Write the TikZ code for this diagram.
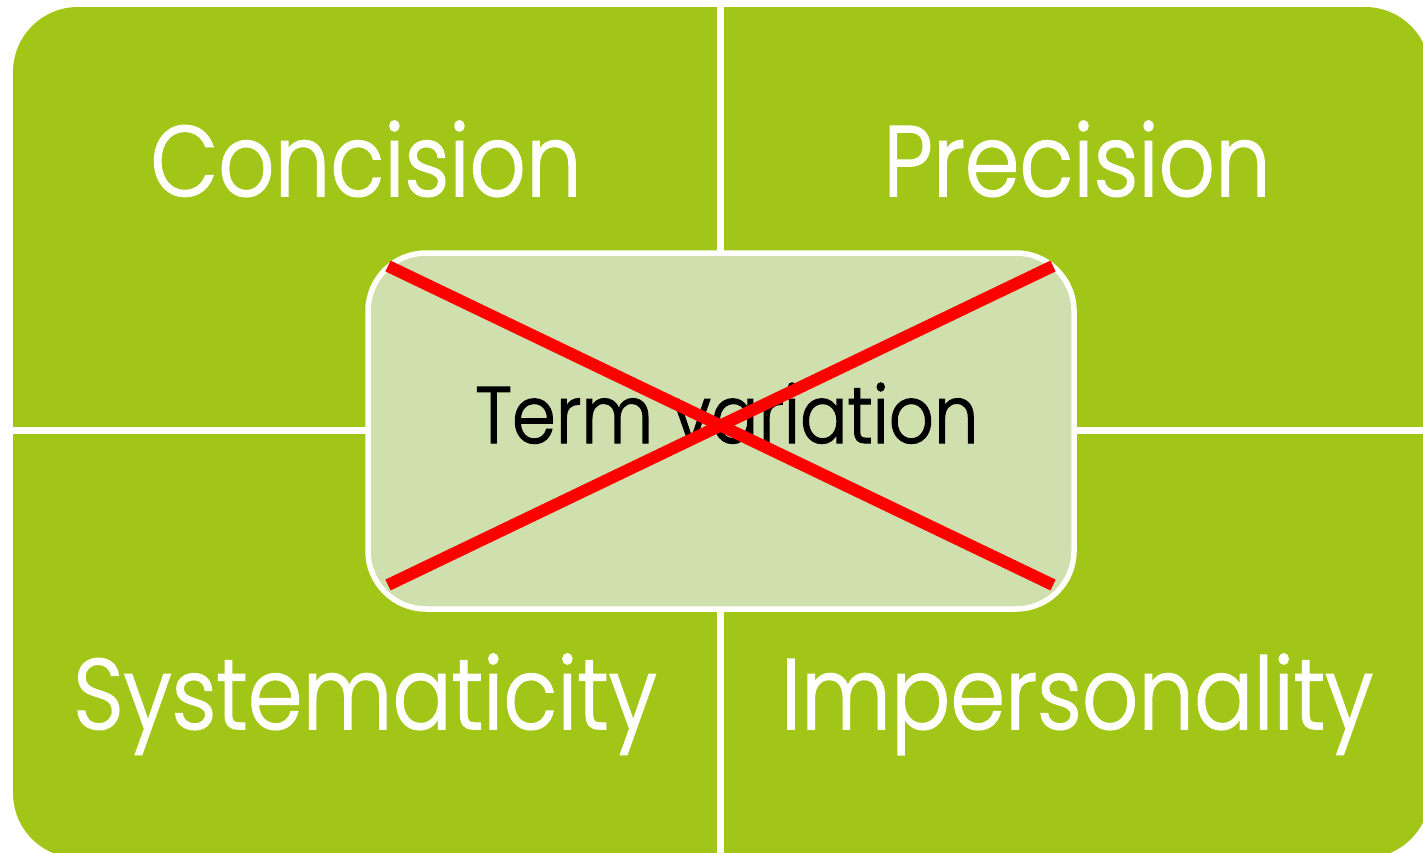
\documentclass[tikz,border=0pt]{standalone}
\usepackage{fontspec}
\setmainfont{Poppins}[UprightFont=* Light, FakeStretch=0.88, FakeBold=1.5]
\definecolor{quadgreen}{HTML}{A2C617}
\definecolor{centergreen}{HTML}{CFDFAE}
\definecolor{crossred}{HTML}{FF0000}
\tikzset{
  quadlabel/.style={text=white, inner sep=0pt, anchor=base, font=\fontsize{100}{120}\selectfont},
  termlabel/.style={text=black, inner sep=0pt, anchor=base, font=\fontsize{80}{96}\selectfont},
  centerbox/.style={draw=white, line width=5.5pt, fill=centergreen, rounded corners=58pt,
    minimum width=706pt, minimum height=356pt, inner sep=0pt},
  crossline/.style={draw=crossred, line width=12pt},
  gapline/.style={draw=white, line width=6.5pt}
}
\begin{document}
\begin{tikzpicture}[x=1pt, y=-1pt]
\useasboundingbox (0,0) rectangle (1423,852);
\fill[quadgreen, rounded corners=65pt] (13,7) rectangle (1430,858);
\coordinate (vtop) at (720.5,0);
\coordinate (vbot) at (720.5,860);
\coordinate (hl) at (0,430.5);
\coordinate (hr) at (1430,430.5);
\draw[gapline] (vtop) -- (vbot);
\draw[gapline] (hl) -- (hr);
\node[quadlabel] (concision) at (366,196) {Concision};
\node[quadlabel] (precision) at (1077,196) {Precision};
\node[quadlabel] (systematicity) at (365,729) {Systematicity};
\node[quadlabel] (impersonality) at (1077,729) {Impersonality};
\node[centerbox] (term) at (721,431) {};
\node[termlabel] (termtext) at (727,443) {Term variation};
\coordinate (xa) at (388,266);
\coordinate (xb) at (1053,585);
\coordinate (xc) at (388,585);
\coordinate (xd) at (1053,266);
\draw[crossline] (xa) -- (xb);
\draw[crossline] (xc) -- (xd);
\end{tikzpicture}
\end{document}
